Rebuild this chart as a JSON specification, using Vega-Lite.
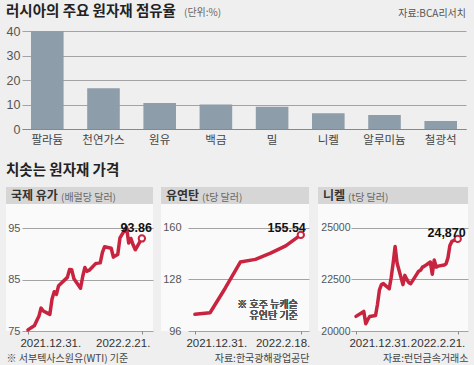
{
  "$schema": "https://vega.github.io/schema/vega-lite/v6.json",
  "background": "#efefef",
  "padding": {"left": 6, "top": 3, "right": 7, "bottom": 2},
  "config": {
    "font": "Noto Sans CJK KR",
    "view": {"stroke": null},
    "axis": {"grid": true, "gridColor": "#a3a3a3", "gridWidth": 1, "domain": false, "ticks": false, "labelColor": "#555", "labelFont": "Liberation Sans"},
    "title": {"anchor": "start", "font": "Noto Sans CJK KR"}
  },
  "spacing": 16,
  "align": "none",
  "vconcat": [
    {
      "title": {"text": "자료:BCA리서치", "anchor": "end", "fontSize": 10, "fontWeight": "normal", "color": "#555", "offset": -15},
      "align": "none",
      "vconcat": [
        {
          "title": {"text": "(단위:%)", "anchor": "start", "fontSize": 10, "fontWeight": "normal", "color": "#666", "dx": 178, "offset": -14},
          "align": "none",
          "vconcat": [
            {
              "title": {"text": "러시아의 주요 원자재 점유율", "fontSize": 14.5, "fontWeight": "bold", "color": "#222", "offset": 6},
              "width": 460,
              "height": 98,
              "data": {"values": [
                {"item": "팔라듐", "share": 40},
                {"item": "천연가스", "share": 16.6},
                {"item": "원유", "share": 10.6},
                {"item": "백금", "share": 10},
                {"item": "밀", "share": 9.1},
                {"item": "니켈", "share": 6.4},
                {"item": "알루미늄", "share": 5.7},
                {"item": "철광석", "share": 3.3}
              ]},
              "mark": {"type": "bar", "color": "#8e9daa"},
              "encoding": {
                "x": {"field": "item", "type": "nominal", "sort": null,
                  "scale": {"range": [16, 460], "paddingInner": 0.42, "paddingOuter": 0.16},
                  "axis": {"title": null, "labelAngle": 0, "labelFont": "Noto Sans CJK KR", "labelFontSize": 11.5, "labelColor": "#444", "labelPadding": 5, "domain": true, "domainColor": "#888", "grid": false}},
                "y": {"field": "share", "type": "quantitative", "scale": {"domain": [0, 40], "nice": false},
                  "axis": {"title": null, "values": [0, 10, 20, 30, 40], "offset": -16, "labelFontSize": 12.5, "labelPadding": 2}}
              }
            }
          ]
        }
      ]
    },
    {
      "title": {"text": "치솟는 원자재 가격", "fontSize": 14.5, "fontWeight": "bold", "color": "#222", "offset": 9},
      "spacing": 8,
      "align": "none",
      "hconcat": [
        {
          "title": {"text": "(배럴당 달러)", "fontSize": 10, "fontWeight": "normal", "color": "#666", "dx": 55, "offset": -21, "baseline": "middle"},
          "spacing": 0,
          "align": "none",
          "vconcat": [
            {
              "width": 147, "height": 17,
              "data": {"values": [{"box": 1}]},
              "mark": {"type": "rect", "color": "#d6d6d6"},
              "title": {"text": "국제 유가", "fontSize": 12, "fontWeight": "bold", "color": "#333", "dx": 5, "offset": -21, "baseline": "middle"}
            },
            {
              "width": 147, "height": 127,
              "view": {"fill": "#fafafa"},
              "data": {"values": [
                {"date": "2021-12-31", "value": 75.21},
                {"date": "2022-01-03", "value": 76.08},
                {"date": "2022-01-04", "value": 76.99},
                {"date": "2022-01-05", "value": 77.85},
                {"date": "2022-01-06", "value": 79.46},
                {"date": "2022-01-07", "value": 78.9},
                {"date": "2022-01-10", "value": 78.23},
                {"date": "2022-01-11", "value": 81.22},
                {"date": "2022-01-12", "value": 82.64},
                {"date": "2022-01-13", "value": 82.12},
                {"date": "2022-01-14", "value": 83.82},
                {"date": "2022-01-18", "value": 85.43},
                {"date": "2022-01-19", "value": 86.96},
                {"date": "2022-01-20", "value": 86.9},
                {"date": "2022-01-21", "value": 85.14},
                {"date": "2022-01-24", "value": 83.31},
                {"date": "2022-01-25", "value": 85.6},
                {"date": "2022-01-26", "value": 87.35},
                {"date": "2022-01-27", "value": 86.61},
                {"date": "2022-01-28", "value": 86.82},
                {"date": "2022-01-31", "value": 88.15},
                {"date": "2022-02-01", "value": 88.2},
                {"date": "2022-02-02", "value": 88.26},
                {"date": "2022-02-03", "value": 90.27},
                {"date": "2022-02-04", "value": 91.4},
                {"date": "2022-02-07", "value": 91.1},
                {"date": "2022-02-08", "value": 89.36},
                {"date": "2022-02-09", "value": 89.66},
                {"date": "2022-02-10", "value": 89.88},
                {"date": "2022-02-11", "value": 93.1},
                {"date": "2022-02-14", "value": 95.2},
                {"date": "2022-02-15", "value": 92.1},
                {"date": "2022-02-16", "value": 93.0},
                {"date": "2022-02-17", "value": 91.76},
                {"date": "2022-02-18", "value": 90.8},
                {"date": "2022-02-21", "value": 93.0, "label": "93.86"}
              ]},
              "encoding": {
                "x": {"field": "date", "type": "temporal", "timeUnit": "utcyearmonthdate",
                  "scale": {"range": [16, 147], "domain": [{"year": 2021, "month": 12, "date": 28, "hours": 7, "utc": true}, {"year": 2022, "month": 2, "date": 26, "hours": 2, "utc": true}], "nice": false},
                  "axis": {"title": "※ 서부텍사스원유(WTI) 기준", "titleFontSize": 10, "titleFontWeight": "normal", "titleColor": "#444", "titleAlign": "left", "titleX": 0, "titleY": 27, "titleBaseline": "middle",
                    "values": [{"year": 2021, "month": 12, "date": 31, "utc": true}, {"year": 2022, "month": 2, "date": 21, "utc": true}],
                    "format": "%Y.%-m.%-d.", "labelFlush": 40, "labelFlushOffset": 8, "labelFontSize": 11.5, "labelColor": "#333", "labelPadding": 3, "labelOverlap": false, "ticks": true, "tickSize": 3, "tickColor": "#888", "grid": false}},
                "y": {"field": "value", "type": "quantitative", "scale": {"domain": [75, 99.7], "nice": false, "zero": false},
                  "axis": {"title": null, "values": [75, 85, 95], "offset": -16, "labelFontSize": 11, "labelPadding": 2}}
              },
              "layer": [
                {"mark": {"type": "line", "color": "#c8243f", "strokeWidth": 3.5, "strokeJoin": "round", "strokeCap": "round"}},
                {"transform": [{"filter": "datum.label"}], "mark": {"type": "circle", "fill": "white", "stroke": "#c8243f", "strokeWidth": 2, "size": 40, "opacity": 1}},
                {"transform": [{"filter": "datum.label"}], "mark": {"type": "text", "align": "right", "dx": 10, "dy": -10, "fontSize": 12.5, "fontWeight": "bold", "font": "Liberation Sans", "color": "#111"}, "encoding": {"text": {"field": "label"}}}
              ]
            }
          ]
        },
        {
          "title": {"text": "(t당 달러)", "fontSize": 10, "fontWeight": "normal", "color": "#666", "dx": 41, "offset": -21, "baseline": "middle"},
          "spacing": 0,
          "align": "none",
          "vconcat": [
            {
              "width": 148, "height": 17,
              "data": {"values": [{"box": 1}]},
              "mark": {"type": "rect", "color": "#d6d6d6"},
              "title": {"text": "유연탄", "fontSize": 12, "fontWeight": "bold", "color": "#333", "dx": 5, "offset": -21, "baseline": "middle"}
            },
            {
              "width": 148, "height": 127,
              "view": {"fill": "#fafafa"},
              "data": {"values": [
                {"date": "2021-12-31", "value": 106.4},
                {"date": "2022-01-07", "value": 107.3},
                {"date": "2022-01-14", "value": 122.5},
                {"date": "2022-01-21", "value": 138.7},
                {"date": "2022-01-28", "value": 140.4},
                {"date": "2022-02-04", "value": 144.3},
                {"date": "2022-02-11", "value": 148.7},
                {"date": "2022-02-18", "value": 155.54, "label": "155.54"}
              ]},
              "encoding": {
                "x": {"field": "date", "type": "temporal", "timeUnit": "utcyearmonthdate",
                  "scale": {"range": [27, 148], "domain": [{"year": 2021, "month": 12, "date": 27, "hours": 19, "utc": true}, {"year": 2022, "month": 2, "date": 21, "hours": 19, "utc": true}], "nice": false},
                  "axis": {"title": "자료:한국광해광업공단", "titleFontSize": 10, "titleFontWeight": "normal", "titleColor": "#444", "titleAnchor": "end", "titleY": 27, "titleBaseline": "middle",
                    "values": [{"year": 2021, "month": 12, "date": 31, "utc": true}, {"year": 2022, "month": 2, "date": 18, "utc": true}],
                    "format": "%Y.%-m.%-d.", "labelFlush": 40, "labelFlushOffset": 9, "labelFontSize": 11.5, "labelColor": "#333", "labelPadding": 3, "labelOverlap": false, "ticks": true, "tickSize": 3, "tickColor": "#888", "grid": false}},
                "y": {"field": "value", "type": "quantitative", "scale": {"domain": [96, 174.7], "nice": false, "zero": false},
                  "axis": {"title": null, "values": [96, 128, 160], "offset": -27, "labelFontSize": 11, "labelPadding": 7}}
              },
              "layer": [
                {"mark": {"type": "line", "color": "#c8243f", "strokeWidth": 3.5, "strokeJoin": "round", "strokeCap": "round"}},
                {"transform": [{"filter": "datum.label"}], "mark": {"type": "circle", "fill": "white", "stroke": "#c8243f", "strokeWidth": 2, "size": 40, "opacity": 1}},
                {"transform": [{"filter": "datum.label"}], "mark": {"type": "text", "align": "right", "dx": 5, "dy": -7, "fontSize": 12.5, "fontWeight": "bold", "font": "Liberation Sans", "color": "#111"}, "encoding": {"text": {"field": "label"}}},
                {"mark": {"type": "text", "align": "right", "baseline": "middle", "dx": -3, "fontSize": 10, "color": "#555"},
                  "encoding": {"x": {"datum": {"year": 2022, "month": 2, "date": 18, "utc": true}}, "y": {"datum": 112}, "text": {"value": "※ 호주 뉴캐슬"}}},
                {"mark": {"type": "text", "align": "right", "baseline": "middle", "dx": -3, "fontSize": 10, "color": "#555"},
                  "encoding": {"x": {"datum": {"year": 2022, "month": 2, "date": 18, "utc": true}}, "y": {"datum": 105.5}, "text": {"value": "유연탄 기준"}}}
              ]
            }
          ]
        },
        {
          "title": {"text": "(t당 달러)", "fontSize": 10, "fontWeight": "normal", "color": "#666", "dx": 30, "offset": -21, "baseline": "middle"},
          "spacing": 0,
          "align": "none",
          "vconcat": [
            {
              "width": 150, "height": 17,
              "data": {"values": [{"box": 1}]},
              "mark": {"type": "rect", "color": "#d6d6d6"},
              "title": {"text": "니켈", "fontSize": 12, "fontWeight": "bold", "color": "#333", "dx": 5, "offset": -21, "baseline": "middle"}
            },
            {
              "width": 150, "height": 127,
              "view": {"fill": "#fafafa"},
              "data": {"values": [
                {"date": "2021-12-31", "value": 20710},
                {"date": "2022-01-04", "value": 20950},
                {"date": "2022-01-05", "value": 20350},
                {"date": "2022-01-06", "value": 20550},
                {"date": "2022-01-07", "value": 20700},
                {"date": "2022-01-10", "value": 20750},
                {"date": "2022-01-11", "value": 21300},
                {"date": "2022-01-12", "value": 22000},
                {"date": "2022-01-13", "value": 22250},
                {"date": "2022-01-14", "value": 22300},
                {"date": "2022-01-17", "value": 22050},
                {"date": "2022-01-18", "value": 22600},
                {"date": "2022-01-19", "value": 23300},
                {"date": "2022-01-20", "value": 24100},
                {"date": "2022-01-21", "value": 23300},
                {"date": "2022-01-24", "value": 22250},
                {"date": "2022-01-25", "value": 22700},
                {"date": "2022-01-26", "value": 22500},
                {"date": "2022-01-27", "value": 22350},
                {"date": "2022-01-28", "value": 22300},
                {"date": "2022-01-31", "value": 22750},
                {"date": "2022-02-01", "value": 22900},
                {"date": "2022-02-02", "value": 22950},
                {"date": "2022-02-03", "value": 23100},
                {"date": "2022-02-04", "value": 23150},
                {"date": "2022-02-07", "value": 23350},
                {"date": "2022-02-08", "value": 22750},
                {"date": "2022-02-09", "value": 23450},
                {"date": "2022-02-10", "value": 23100},
                {"date": "2022-02-11", "value": 23150},
                {"date": "2022-02-14", "value": 23200},
                {"date": "2022-02-15", "value": 23250},
                {"date": "2022-02-16", "value": 23550},
                {"date": "2022-02-17", "value": 24150},
                {"date": "2022-02-18", "value": 24350},
                {"date": "2022-02-21", "value": 24470, "label": "24,870"}
              ]},
              "encoding": {
                "x": {"field": "date", "type": "temporal", "timeUnit": "utcyearmonthdate",
                  "scale": {"range": [33, 150], "domain": [{"year": 2021, "month": 12, "date": 28, "hours": 11, "utc": true}, {"year": 2022, "month": 2, "date": 26, "hours": 6, "utc": true}], "nice": false},
                  "axis": {"title": "자료:런던금속거래소", "titleFontSize": 10, "titleFontWeight": "normal", "titleColor": "#444", "titleAnchor": "end", "titleY": 27, "titleBaseline": "middle",
                    "values": [{"year": 2021, "month": 12, "date": 31, "utc": true}, {"year": 2022, "month": 2, "date": 21, "utc": true}],
                    "format": "%Y.%-m.%-d.", "labelFlush": 40, "labelFlushOffset": 7, "labelFontSize": 11.5, "labelColor": "#333", "labelPadding": 3, "labelOverlap": false, "ticks": true, "tickSize": 3, "tickColor": "#888", "grid": false}},
                "y": {"field": "value", "type": "quantitative", "scale": {"domain": [20000, 26165], "nice": false, "zero": false},
                  "axis": {"title": null, "values": [20000, 22500, 25000], "format": "d", "offset": -33, "labelFontSize": 10.5, "labelPadding": 1}}
              },
              "layer": [
                {"mark": {"type": "line", "color": "#c8243f", "strokeWidth": 3.5, "strokeJoin": "round", "strokeCap": "round"}},
                {"transform": [{"filter": "datum.label"}], "mark": {"type": "circle", "fill": "white", "stroke": "#c8243f", "strokeWidth": 2, "size": 40, "opacity": 1}},
                {"transform": [{"filter": "datum.label"}], "mark": {"type": "text", "align": "right", "dx": 8, "dy": -6, "fontSize": 12.5, "fontWeight": "bold", "font": "Liberation Sans", "color": "#111"}, "encoding": {"text": {"field": "label"}}}
              ]
            }
          ]
        }
      ]
    }
  ]
}
